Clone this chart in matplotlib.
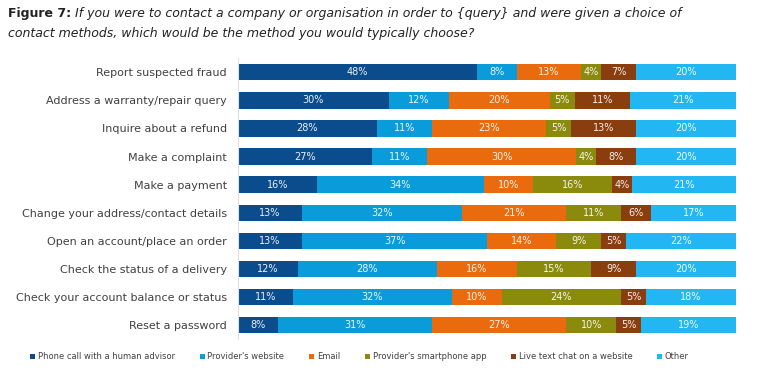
import matplotlib.pyplot as plt
import numpy as np

# Dados
categorias = ['Report suspected fraud', 'Address a warranty/repair query', 'Inquire about a refund',
              'Make a complaint', 'Make a payment', 'Change your address/contact details',
              'Open an account/place an order', 'Check the status of a delivery',
              'Check your account balance or status', 'Reset a password']
series = ['Phone call with a human advisor', "Provider's website", 'Email',
          "Provider's smartphone app", 'Live text chat on a website', 'Other']
telefone = [48, 30, 28, 27, 16, 13, 13, 12, 11, 8]
website = [8, 12, 11, 11, 34, 32, 37, 28, 32, 31]
email = [13, 20, 23, 30, 10, 21, 14, 16, 10, 27]
app = [4, 5, 5, 4, 16, 11, 9, 15, 24, 10]
chat = [7, 11, 13, 8, 4, 6, 5, 9, 5, 5]
outro = [20, 21, 20, 20, 21, 17, 22, 20, 18, 19]

valores = [telefone, website, email, app, chat, outro]
cores = ['#0B4C8C', '#0A9BDB', '#EA6B0E', '#8A8A0C', '#8A3D0E', '#22B7F2']

# barras de 100% (os arredondamentos nem sempre somam 100)
totais = np.sum(np.array(valores, dtype=float), axis=0)

fig = plt.figure(figsize=(7.67, 3.71), dpi=100)
ax = fig.add_axes([0.310, 0.086, 0.649, 0.757])

y = np.arange(len(categorias))
esquerda = np.zeros(len(categorias))
for nome, vals, cor in zip(series, valores, cores):
    vals = np.array(vals, dtype=float)
    larg = vals / totais * 100
    barras = ax.barh(y, larg, left=esquerda, height=0.58, color=cor, label=nome)
    for b, v in zip(barras, vals):
        ax.text(b.get_x() + b.get_width() / 2, b.get_y() + b.get_height() / 2,
                f'{int(v)}%', ha='center', va='center', color='white', fontsize=7, alpha=0.92)
    esquerda += larg

ax.set_xlim(0, 100)
ax.set_ylim(len(categorias) - 0.5, -0.5)
ax.set_yticks(y)
ax.set_yticklabels(categorias, fontsize=8, color='#404040')
ax.tick_params(axis='y', length=0, pad=8)
ax.set_xticks([])
for lado in ['top', 'right', 'bottom']:
    ax.spines[lado].set_visible(False)
ax.spines['left'].set_color('#e0e0e0')

# Título
negrito = fig.text(0.010, 0.963, 'Figure 7:', fontsize=9, fontweight='bold', color='#222222', va='center')
fig.add_artist(plt.Annotation('If you were to contact a company or organisation in order to {query} and were given a choice of',
                              xy=(1, 0.5), xycoords=negrito, xytext=(3, 0), textcoords='offset points',
                              fontsize=9, style='italic', color='#222222', va='center'))
fig.text(0.010, 0.910, 'contact methods, which would be the method you would typically choose?',
         fontsize=9, style='italic', color='#222222', va='center')

# Legenda
leg = fig.legend(loc='center left', bbox_to_anchor=(0.035, 0.038), ncol=6, fontsize=6,
                 frameon=False, handlelength=0.6, handleheight=0.6, handletextpad=0.3,
                 columnspacing=3.0, borderaxespad=0)
for t in leg.get_texts():
    t.set_color('#404040')

plt.savefig('out.png', dpi=100)
